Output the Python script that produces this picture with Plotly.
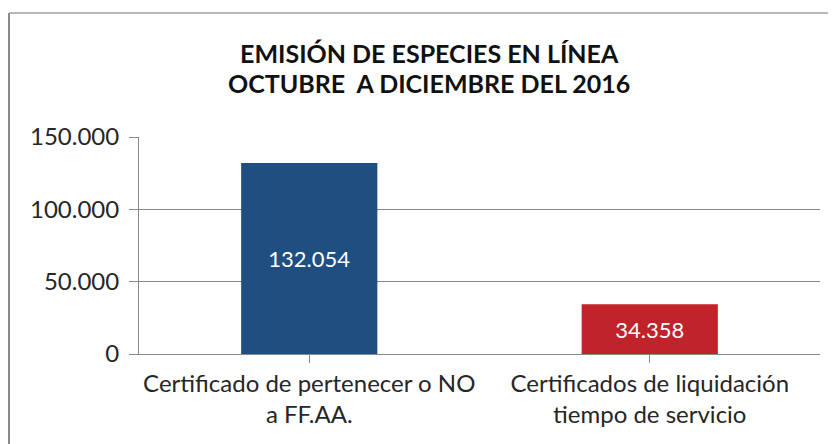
import plotly.graph_objects as go

categories = ["Certificado de pertenecer o NO<br>a FF.AA.", "Certificados de liquidación<br>tiempo de servicio"]
values = [132054, 34358]
colors = ["#1F4E80", "#C0232A"]
tick_vals = [0, 50000, 100000, 150000]
title_lines = ["EMISIÓN DE ESPECIES EN LÍNEA", "OCTUBRE  A DICIEMBRE DEL 2016"]

# page has an 8px body margin; figure coords = page coords - 8
OFF = 8
W, H = 836 - OFF, 444 - OFF
L, T = 139 - OFF, 137 - OFF
R = W - (820 - OFF)
B = H - (354 - OFF)
pw, ph = W - L - R, H - T - B

FONT = "Lato, 'Liberation Sans', sans-serif"

fig = go.Figure(go.Bar(
    x=[0, 1], y=values, marker=dict(color=colors, line=dict(width=0)),
    text=values, texttemplate="%{y:,}", textposition="inside",
    insidetextanchor="middle", textangle=0,
    textfont=dict(color="white", size=22, family=FONT),
))

def px_x(p):
    return (p - OFF - L) / pw

def px_y(p):
    return 1 - (p - OFF - T) / ph

bx0 = px_x(9)
by1 = px_y(13)
fig.add_shape(type="line", xref="paper", yref="paper", x0=bx0, x1=bx0, y0=-1, y1=by1,
              line=dict(color="#8a8a8a", width=2))
fig.add_shape(type="line", xref="paper", yref="paper", x0=bx0, x1=2, y0=by1, y1=by1,
              line=dict(color="#a0a0a0", width=1.5))

for line, yc in zip(title_lines, [53, 83]):
    fig.add_annotation(text="<b>" + line + "</b>", xref="paper", yref="paper",
                       x=px_x(429), y=px_y(yc), xanchor="center", yanchor="middle",
                       showarrow=False, font=dict(size=25, color="#111111", family=FONT))

fig.update_layout(
    width=W, height=H,
    margin=dict(l=L, r=R, t=T, b=B, pad=0),
    paper_bgcolor="white", plot_bgcolor="white",
    separators=",.",
    bargap=0.6,
    showlegend=False,
    xaxis=dict(tickmode="array", tickvals=[0, 1], ticktext=categories, range=[-0.5, 1.5],
               showline=True, linecolor="#888888", linewidth=1,
               ticks="outside", tickson="boundaries", ticklen=8, tickcolor="#888888",
               tickfont=dict(size=24, color="#262626", family=FONT),
               showgrid=False, fixedrange=True),
    yaxis=dict(range=[0, 150000], tickvals=tick_vals, tickformat=",",
               showline=True, linecolor="#888888", linewidth=1,
               ticks="outside", ticklen=9, tickcolor="#888888", ticklabelstandoff=5,
               showgrid=True, gridcolor="#888888", gridwidth=1,
               tickfont=dict(size=24, color="#262626", family=FONT),
               zeroline=False, fixedrange=True),
)

fig.write_html("out.html")
